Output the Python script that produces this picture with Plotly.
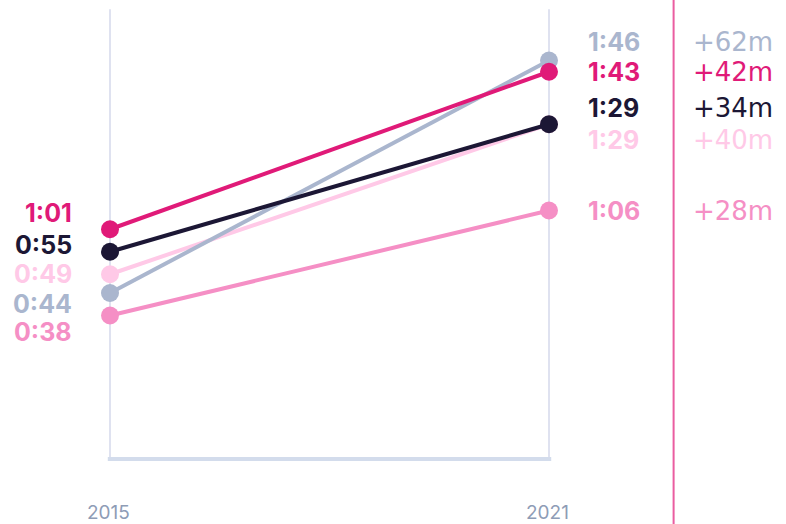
import plotly.graph_objects as go

years = [2015, 2021]
series_names = ["A", "B", "C", "D", "E"]
values_2015 = [61, 55, 49, 44, 38]
values_2021 = [103, 89, 89, 106, 66]
labels_2015 = ["1:01", "0:55", "0:49", "0:44", "0:38"]
labels_2021 = ["1:43", "1:29", "1:29", "1:46", "1:06"]
diff_labels = ["+42m", "+34m", "+40m", "+62m", "+28m"]
colors = ["#e01a78", "#1c1735", "#ffc9e7", "#aab6ce", "#f58fc5"]

# label offsets (pixels) to avoid overlap
left_shift = [16, 7, 0, -11, -16]
right_shift = [0, 16, -16, 19, 0]
# drawing order (back to front)
order = [2, 4, 3, 1, 0]

fig = go.Figure()

Y_TOP = 119.7
fig.add_shape(type="line", x0=2015, x1=2015, y0=0, y1=Y_TOP, xref="x", yref="y",
              line=dict(color="#dfe2f0", width=2), layer="below")
fig.add_shape(type="line", x0=2021, x1=2021, y0=0, y1=Y_TOP, xref="x", yref="y",
              line=dict(color="#dfe2f0", width=2), layer="below")
fig.add_shape(type="line", x0=2014.97, x1=2021.03, y0=-0.3, y1=-0.3, xref="x", yref="y",
              line=dict(color="#d3dcec", width=4), layer="below")
fig.add_shape(type="line", x0=0.857, x1=0.857, y0=0, y1=1, xref="paper", yref="paper",
              line=dict(color="#ea5da0", width=2))

for i in order:
    fig.add_trace(go.Scatter(
        x=years, y=[values_2015[i], values_2021[i]],
        mode="lines+markers",
        line=dict(color=colors[i], width=4),
        marker=dict(color=colors[i], size=18),
        name=series_names[i], showlegend=False, hoverinfo="skip",
    ))

for i in range(5):
    fig.add_annotation(x=2015, y=values_2015[i], xref="x", yref="y",
                       text=f"<b>{labels_2015[i]}</b>", showarrow=False,
                       xanchor="right", yanchor="middle", xshift=-36, yshift=left_shift[i],
                       font=dict(family="Inter", size=25, color=colors[i]))
    fig.add_annotation(x=2021, y=values_2021[i], xref="x", yref="y",
                       text=f"<b>{labels_2021[i]}</b>", showarrow=False,
                       xanchor="left", yanchor="middle", xshift=37, yshift=right_shift[i],
                       font=dict(family="Inter", size=25, color=colors[i]))
    fig.add_annotation(x=2021, y=values_2021[i], xref="x", yref="y",
                       text=diff_labels[i], showarrow=False,
                       xanchor="left", yanchor="middle", xshift=142, yshift=right_shift[i],
                       font=dict(family="DejaVu Sans", size=26, color=colors[i]))

for yr in years:
    fig.add_annotation(x=yr, y=0, xref="x", yref="y", text=str(yr), showarrow=False,
                       xanchor="center", yanchor="middle", xshift=-2, yshift=-54,
                       font=dict(family="Inter", size=19, color="#8e9cb6"))

X_PX = 439 / 6
fig.update_layout(
    width=786, height=524,
    margin=dict(l=0, r=0, t=0, b=0),
    paper_bgcolor="white", plot_bgcolor="white",
    xaxis=dict(range=[2015 - 110 / X_PX, 2021 + 237 / X_PX], visible=False, fixedrange=True),
    yaxis=dict(range=[-(524 - 458) / 3.75, 458 / 3.75], visible=False, fixedrange=True),
)

fig.write_html("out.html")
